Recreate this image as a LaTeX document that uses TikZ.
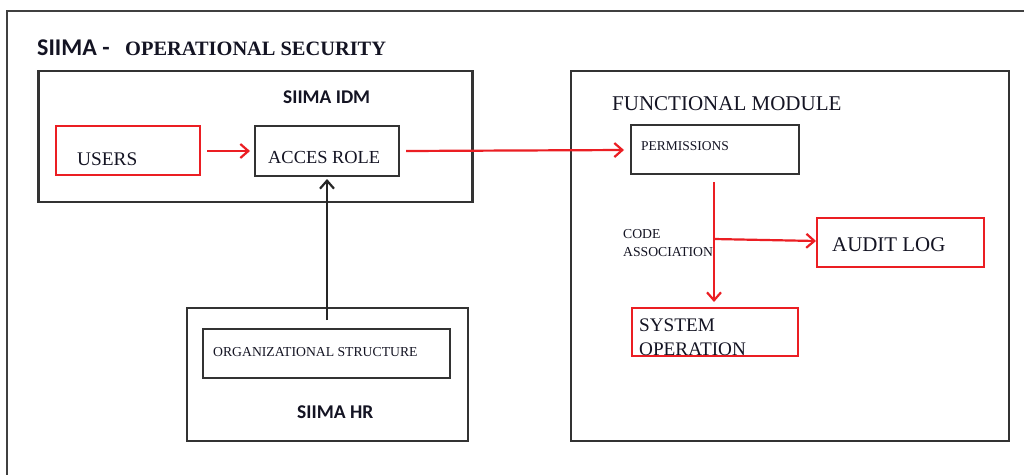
\documentclass[tikz,border=0pt]{standalone}
\usepackage{fontspec}
\setmainfont{Liberation Serif}
\newfontfamily\calib{Carlito}
\usetikzlibrary{arrows.meta}
\definecolor{boxred}{RGB}{235,30,35}
\definecolor{inkc}{RGB}{20,20,35}
\tikzset{
  frame/.style={draw=black!80, line width=2.4pt, inner sep=0pt},
  redbox/.style={draw=boxred, line width=2.4pt, inner sep=0pt},
  txt/.style={inner sep=0pt, anchor=base west, text=inkc},
  redarrow/.style={draw=boxred, line width=2.2pt, -{Straight Barb[length=8pt,width=14pt,line width=2.2pt]}},
  blkarrow/.style={draw=black!85, line width=2.2pt, -{Straight Barb[length=8pt,width=14pt,line width=2.2pt]}},
}
\newcommand{\fs}[1]{\fontsize{#1}{#1}\selectfont}
\begin{document}
\begin{tikzpicture}[x=1pt,y=-1pt]
\useasboundingbox (0,0) rectangle (1024,474);
\fill[white] (0,0) rectangle (1024,474);
% outer frame (left and top edges visible)
\draw[black!75, line width=2.4pt] (7,480) -- (7,11) -- (1030,11);
% title
\node[txt] (t1) at (37,55) {\calib\bfseries\fs{24}SIIMA -};
\node[txt] (t2) at (125,55) {\bfseries\fs{20.4}OPERATIONAL SECURITY};
% boxes
\node[frame, minimum width=434pt, minimum height=131pt] (idm) at (255.5,136.5) {};
\node[frame, minimum width=438pt, minimum height=370pt] (fm) at (790,256) {};
\node[frame, minimum width=281pt, minimum height=133pt] (hr) at (327.5,374.5) {};
\node[redbox, minimum width=144pt, minimum height=49pt] (users) at (128,150.5) {};
\node[frame, minimum width=144pt, minimum height=50pt] (acces) at (327,151) {};
\node[frame, minimum width=168pt, minimum height=49pt] (perm) at (715,149.5) {};
\node[frame, minimum width=247pt, minimum height=49pt] (org) at (326.5,353.5) {};
\node[redbox, minimum width=167pt, minimum height=49pt] (audit) at (900.5,242.5) {};
\node[redbox, minimum width=166pt, minimum height=48pt] (sysop) at (715,332) {};
% texts
\node[txt] (lidm) at (283,103) {\calib\bfseries\fs{19.4}SIIMA IDM};
\node[txt] (lhr) at (297,418) {\calib\bfseries\fs{19.5}SIIMA HR};
\node[txt] (lfm) at (612,110) {\fs{21}FUNCTIONAL MODULE};
\node[txt] (lusers) at (77,165) {\fs{19.3}USERS};
\node[txt] (lacces) at (268,163) {\fs{18.4}ACCES ROLE};
\node[txt] (lperm) at (641,150) {\fs{13.5}PERMISSIONS};
\node[txt] (lorg) at (213,356) {\fs{13.7}ORGANIZATIONAL STRUCTURE};
\node[txt] (laudit) at (832,251) {\fs{20.9}AUDIT LOG};
\node[txt] (lsys1) at (639,331) {\fs{19.2}SYSTEM};
\node[txt] (lsys2) at (639,355) {\fs{19.2}OPERATION};
\node[txt] (lcode1) at (623,238) {\fs{13.7}CODE};
\node[txt] (lcode2) at (623,256) {\fs{13.7}ASSOCIATION};
% connectors
\coordinate (ua) at (207,151);
\coordinate (ub) at (250,151);
\draw[redarrow] (ua) -- (ub);
\coordinate (aa) at (406,151);
\coordinate (ab) at (624,150);
\draw[redarrow] (aa) -- (ab);
\coordinate (ha) at (327,320);
\coordinate (hb) at (327,179);
\draw[blkarrow] (ha) -- (hb);
\coordinate (pa) at (714,182);
\coordinate (pb) at (714,302);
\draw[redarrow] (pa) -- (pb);
\coordinate (ba) at (714,239);
\coordinate (bb) at (816,241);
\draw[redarrow] (ba) -- (bb);
\end{tikzpicture}
\end{document}
